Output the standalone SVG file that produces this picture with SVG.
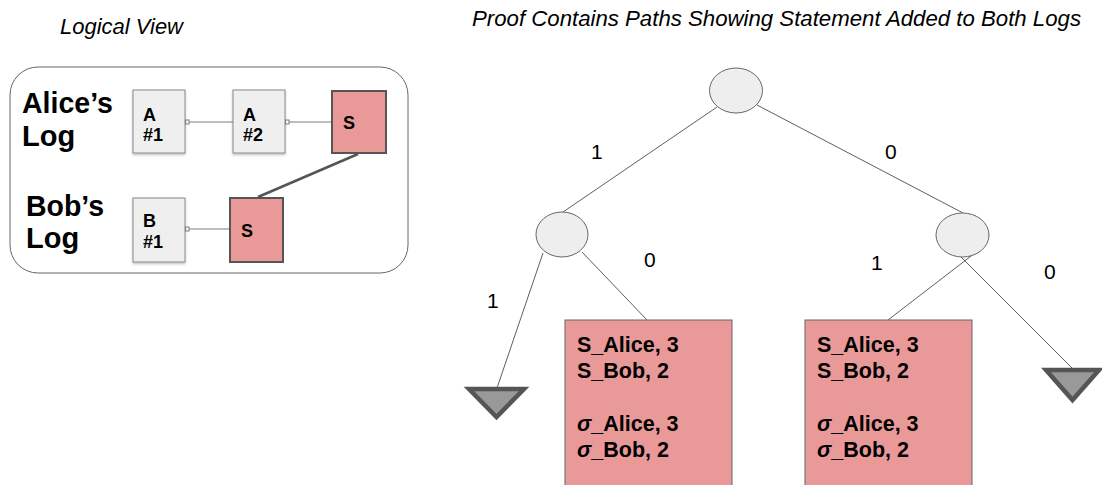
<svg xmlns="http://www.w3.org/2000/svg" width="1102" height="485" viewBox="0 0 1102 485">
  <style>
    text { font-family: "Liberation Sans", Arial, sans-serif; fill: #000; }
    .title { font-size: 22px; font-style: italic; }
    .who { font-size: 29px; font-weight: bold; }
    .blk { font-size: 18px; font-weight: bold; }
    .lbl { font-size: 21px; }
    .rec { font-size: 21.5px; font-weight: bold; }
    .sig { font-style: italic; }
    .entry { fill: #efefef; stroke: #8a8a8a; stroke-width: 1; }
    .stmt { fill: #ea9999; stroke: #555; stroke-width: 2; }
    .proof { fill: #ea9999; stroke: #666; stroke-width: 1; }
    .inner { fill: #eeeeee; stroke: #666; stroke-width: 1; }
    .leaf { fill: #999; stroke: #555; stroke-width: 4.5; stroke-linejoin: miter; }
    .edge { stroke: #5f5f5f; stroke-width: 1; fill: none; }
    .chain { stroke: #7a7a7a; stroke-width: 1; fill: none; }
    .tap { fill: #fff; stroke: #7a7a7a; stroke-width: 1; }
  </style>
  <defs>
    <filter id="lift" x="-20%" y="-20%" width="140%" height="140%">
      <feDropShadow dx="0" dy="1.5" stdDeviation="1" flood-color="#000" flood-opacity="0.25"/>
    </filter>
  </defs>

  <rect width="1102" height="485" fill="#fff"/>

  <!-- headings -->
  <text class="title" x="60" y="34" textLength="123" lengthAdjust="spacingAndGlyphs">Logical View</text>
  <text class="title" x="472" y="26" textLength="609" lengthAdjust="spacingAndGlyphs">Proof Contains Paths Showing Statement Added to Both Logs</text>

  <!-- logical view panel -->
  <g id="panel">
    <rect x="10" y="67" width="398" height="206" rx="28" ry="28" fill="#fff" stroke="#666" stroke-width="1"/>
    <text class="who" x="22" y="113" textLength="91" lengthAdjust="spacingAndGlyphs">Alice’s</text>
    <text class="who" x="22" y="146">Log</text>
    <text class="who" x="26" y="216" textLength="78" lengthAdjust="spacingAndGlyphs">Bob’s</text>
    <text class="who" x="26" y="248">Log</text>
  </g>

  <!-- log chain links -->
  <g id="chain-links">
    <line class="chain" x1="189" y1="122" x2="233" y2="122"/>
    <rect class="tap" x="185.5" y="120" width="3.5" height="4"/>
    <line class="chain" x1="289" y1="122" x2="332" y2="122"/>
    <rect class="tap" x="285.5" y="120" width="3.5" height="4"/>
    <line class="chain" x1="189" y1="229" x2="230" y2="229"/>
    <rect class="tap" x="185.5" y="227" width="3.5" height="4"/>
    <line x1="358" y1="154" x2="258" y2="197" stroke="#555" stroke-width="2.5"/>
  </g>

  <g id="alice-1">
    <rect class="entry" x="133" y="90" width="52" height="63" filter="url(#lift)"/>
    <text class="blk" x="143" y="121">A</text>
    <text class="blk" x="143" y="141">#1</text>
  </g>
  <g id="alice-2">
    <rect class="entry" x="233" y="90" width="52" height="63" filter="url(#lift)"/>
    <text class="blk" x="243" y="121">A</text>
    <text class="blk" x="243" y="141">#2</text>
  </g>
  <g id="alice-s">
    <rect class="stmt" x="332" y="91" width="54" height="62"/>
    <text class="blk" x="343" y="129">S</text>
  </g>
  <g id="bob-1">
    <rect class="entry" x="133" y="198" width="52" height="64" filter="url(#lift)"/>
    <text class="blk" x="143" y="227">B</text>
    <text class="blk" x="143" y="248">#1</text>
  </g>
  <g id="bob-s">
    <rect class="stmt" x="230" y="198" width="53" height="64"/>
    <text class="blk" x="241" y="237">S</text>
  </g>

  <!-- proof tree edges and bit labels -->
  <g id="tree-edges">
    <line class="edge" x1="717" y1="107" x2="563" y2="212"/>
    <line class="edge" x1="757" y1="105" x2="963" y2="213"/>
    <line class="edge" x1="543" y1="253" x2="497" y2="388"/>
    <line class="edge" x1="582" y1="252" x2="647" y2="320"/>
    <line class="edge" x1="975" y1="253" x2="888" y2="320"/>
    <line class="edge" x1="957" y1="253" x2="1073" y2="369"/>
    <text class="lbl" x="591" y="159">1</text>
    <text class="lbl" x="885" y="159">0</text>
    <text class="lbl" x="487" y="308">1</text>
    <text class="lbl" x="644" y="267">0</text>
    <text class="lbl" x="871" y="270">1</text>
    <text class="lbl" x="1044" y="279">0</text>
  </g>

  <g id="root">
    <ellipse class="inner" cx="736" cy="90.5" rx="26.5" ry="22.5"/>
  </g>
  <g id="node-1">
    <ellipse class="inner" cx="562" cy="234.5" rx="26" ry="22.5"/>
  </g>
  <g id="node-0">
    <ellipse class="inner" cx="962.5" cy="235" rx="26.5" ry="22"/>
  </g>

  <g id="leaf-11">
    <polygon class="leaf" points="469,389 524,389 496.5,417"/>
  </g>
  <g id="leaf-00">
    <polygon class="leaf" points="1046,370 1099,370 1072.5,400"/>
  </g>

  <g id="leaf-10">
    <rect class="proof" x="565" y="320" width="167" height="175"/>
    <text class="rec" x="577" y="352">S_Alice, 3</text>
    <text class="rec" x="577" y="378">S_Bob, 2</text>
    <text class="rec" x="577" y="431"><tspan class="sig">σ</tspan>_Alice, 3</text>
    <text class="rec" x="577" y="457"><tspan class="sig">σ</tspan>_Bob, 2</text>
  </g>
  <g id="leaf-01">
    <rect class="proof" x="805" y="320" width="167" height="175"/>
    <text class="rec" x="817" y="352">S_Alice, 3</text>
    <text class="rec" x="817" y="378">S_Bob, 2</text>
    <text class="rec" x="817" y="431"><tspan class="sig">σ</tspan>_Alice, 3</text>
    <text class="rec" x="817" y="457"><tspan class="sig">σ</tspan>_Bob, 2</text>
  </g>
</svg>
